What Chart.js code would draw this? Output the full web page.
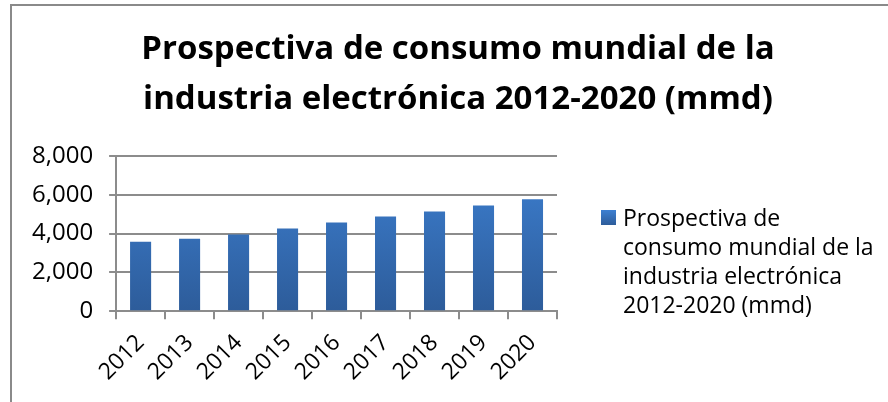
<!DOCTYPE html>
<html>
<head>
<meta charset="utf-8">
<script src="https://cdn.jsdelivr.net/npm/chart.js@4.4.1/dist/chart.umd.min.js"></script>
<style>
  html, body { margin: 0; padding: 0; background: #fff; overflow: hidden; width: 888px; height: 402px; }
  #frame {
    position: absolute; left: 10px; top: 4px;
    width: 900px; height: 420px;
    border-left: 2px solid #8a8a8a; border-top: 2px solid #8a8a8a;
  }
  #wrap { position: absolute; left: 12px; top: 6px; width: 888px; height: 398px; }
</style>
</head>
<body>
<div id="frame"></div>
<div id="wrap"><canvas id="chart"></canvas></div>
<script>
const years = ["2012", "2013", "2014", "2015", "2016", "2017", "2018", "2019", "2020"];
const consumo = [3580, 3740, 3950, 4260, 4570, 4880, 5140, 5450, 5770];
const seriesName = "Prospectiva de consumo mundial de la industria electrónica 2012-2020 (mmd)";
const titleLines = ["Prospectiva de consumo mundial de la", "industria electrónica 2012-2020 (mmd)"];
const legendLines = ["Prospectiva de", "consumo mundial de la", "industria electrónica", "2012-2020 (mmd)"];

const FONT = "'Open Sans', 'DejaVu Sans', sans-serif";
const LEGEND_WIDTH = 343;

function barGradient(context) {
  const chart = context.chart;
  const area = chart.chartArea;
  if (!area) return "#3a7bcb";
  const g = chart.ctx.createLinearGradient(0, area.top, 0, area.bottom);
  g.addColorStop(0, "#3d80d2");
  g.addColorStop(1, "#2d5c9a");
  return g;
}

// legend drawn by hand (Chart.js legend can't wrap long labels),
// a layout box on the right keeps room for it without moving the title
const sideLegend = {
  id: "sideLegend",
  beforeInit(chart) {
    Chart.layouts.addBox(chart, {
      position: "right",
      weight: 100,
      fullSize: false,
      options: { stackWeight: 1 },
      width: 0,
      height: 0,
      isHorizontal() { return false; },
      getPadding() { return { top: 0, left: 0, right: 0, bottom: 0 }; },
      update(maxWidth, maxHeight) {
        this.width = LEGEND_WIDTH;
        this.height = maxHeight;
      },
      draw() {}
    });
  },
  afterDraw(chart) {
    const ctx = chart.ctx;
    const x = chart.chartArea.right + 44;
    const y = 212;
    ctx.save();
    const g = ctx.createLinearGradient(0, y - 8, 0, y + 7);
    g.addColorStop(0, "#3d80d2");
    g.addColorStop(1, "#2d5c9a");
    ctx.fillStyle = g;
    ctx.fillRect(x, y - 8, 15, 15);
    ctx.fillStyle = "#000";
    ctx.font = "23px " + FONT;
    ctx.textBaseline = "middle";
    legendLines.forEach((line, i) => {
      ctx.fillText(line, x + 22, y + 1 + i * 29);
    });
    ctx.restore();
  }
};

new Chart(document.getElementById("chart"), {
  type: "bar",
  data: {
    labels: years,
    datasets: [{
      label: seriesName,
      data: consumo,
      backgroundColor: barGradient,
      barPercentage: 0.43,
      categoryPercentage: 1
    }]
  },
  options: {
    responsive: true,
    maintainAspectRatio: false,
    animation: false,
    layout: { padding: { left: 4, right: 0, bottom: 8 } },
    plugins: {
      legend: { display: false },
      tooltip: { enabled: false },
      title: {
        display: true,
        text: titleLines,
        color: "#000",
        font: { family: FONT, size: 33, weight: "bold", lineHeight: 1.515 },
        padding: { top: 19, bottom: 31 }
      }
    },
    scales: {
      y: {
        min: 0,
        max: 8000,
        ticks: {
          stepSize: 2000,
          color: "#000",
          padding: 16,
          font: { family: FONT, size: 24 },
          callback: (v) => v.toLocaleString("en-US")
        },
        grid: { color: "#8c8c8c", lineWidth: 2, tickLength: 7 },
        border: { color: "#8c8c8c", width: 2 }
      },
      x: {
        ticks: {
          color: "#000",
          minRotation: 45,
          maxRotation: 45,
          padding: 10,
          font: { family: FONT, size: 23 }
        },
        grid: { offset: true, drawOnChartArea: false, color: "#8c8c8c", lineWidth: 2, tickLength: 8 },
        border: { color: "#8c8c8c", width: 2 }
      }
    }
  },
  plugins: [sideLegend]
});
</script>
</body>
</html>
